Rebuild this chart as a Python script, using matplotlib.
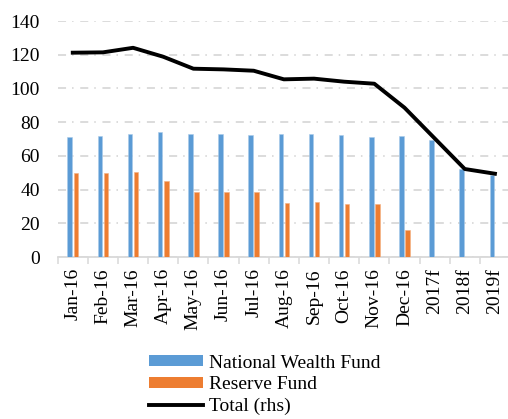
import numpy as np
import matplotlib
matplotlib.use("Agg")
import matplotlib.pyplot as plt
from matplotlib.patches import Patch
from matplotlib.lines import Line2D

# data (USD bn)
categories = ["Jan-16", "Feb-16", "Mar-16", "Apr-16", "May-16", "Jun-16", "Jul-16",
              "Aug-16", "Sep-16", "Oct-16", "Nov-16", "Dec-16", "2017f", "2018f", "2019f"]
nwf = [71.4, 71.6, 73.1, 73.9, 73.1, 72.9, 72.4, 72.8, 73.1, 72.4, 71.4, 71.9, 69.2, 52.0, 48.6]
reserve = [50.0, 50.0, 50.6, 45.3, 38.7, 38.3, 38.3, 32.2, 32.6, 31.6, 31.4, 16.2,
           np.nan, np.nan, np.nan]
total = [121.2, 121.4, 124.1, 118.8, 111.7, 111.3, 110.5, 105.4, 105.8, 104.0, 102.8,
         88.6, 70.4, 52.2, 49.4]
y_ticks = [0, 20, 40, 60, 80, 100, 120, 140]

blue = "#5B9BD5"
orange = "#ED7D31"
grid_col = "#D9D9D9"

plt.rcParams["font.family"] = ["Liberation Serif", "DejaVu Serif"]
plt.rcParams["lines.scale_dashes"] = False

W, H = 508, 419
fig = plt.figure(figsize=(W / 100, H / 100), dpi=100)
left, right, top, bottom = 57.7, 510.0, 21.0, 257.0
ax = fig.add_axes([left / W, 1 - bottom / H, (right - left) / W, (bottom - top) / H])

x = np.arange(len(categories))
bw = 0.15
ax.bar(x - 0.1, nwf, width=bw, color=blue, edgecolor="#A9CBEA", linewidth=0.4, zorder=3)
ax.bar(x + 0.1, reserve, width=bw, color=orange, edgecolor="#F4B183", linewidth=0.4, zorder=3)

ax.set_xlim(-0.5, len(categories) - 0.5)
ax.set_ylim(0, 140)
ax.set_yticks(y_ticks)
ax.set_yticklabels([str(v) for v in y_ticks], fontsize=14)
ax.set_xticks(x)
ax.set_xticklabels(categories, rotation=90, fontsize=14)
ax.set_xticks(np.arange(-0.5, len(categories), 1.0), minor=True)
ax.tick_params(axis="x", which="major", length=0, pad=8)
ax.tick_params(axis="x", which="minor", length=5, width=1.1, color=grid_col)
ax.tick_params(axis="y", length=0, pad=13)

ax.yaxis.grid(True, color=grid_col, linewidth=1.3,
              linestyle=(0, (5.8, 4.3, 1.1, 4.8)), zorder=0)
ax.set_axisbelow(True)
for side in ["top", "right", "left"]:
    ax.spines[side].set_visible(False)
ax.spines["bottom"].set_color(grid_col)
ax.spines["bottom"].set_linewidth(1.3)

# total on the right-hand scale (not displayed)
ax2 = ax.twinx()
ax2.set_ylim(0, 140)
ax2.plot(x, total, color="black", linewidth=2.8, solid_joinstyle="round", zorder=4)
ax2.set_yticks([])
for side in ax2.spines:
    ax2.spines[side].set_visible(False)

handles = [Patch(facecolor=blue, edgecolor="none"),
           Patch(facecolor=orange, edgecolor="none"),
           Line2D([0], [0], color="black", linewidth=2.8)]
labels = ["National Wealth Fund", "Reserve Fund", "Total (rhs)"]
fig.legend(handles, labels, loc="upper left", bbox_to_anchor=(141 / W, 1 - 347 / H),
           frameon=False, fontsize=14, handlelength=2.8, handleheight=0.5,
           handletextpad=0.3, labelspacing=0.24, borderaxespad=0)

fig.savefig("out.png", dpi=100)
